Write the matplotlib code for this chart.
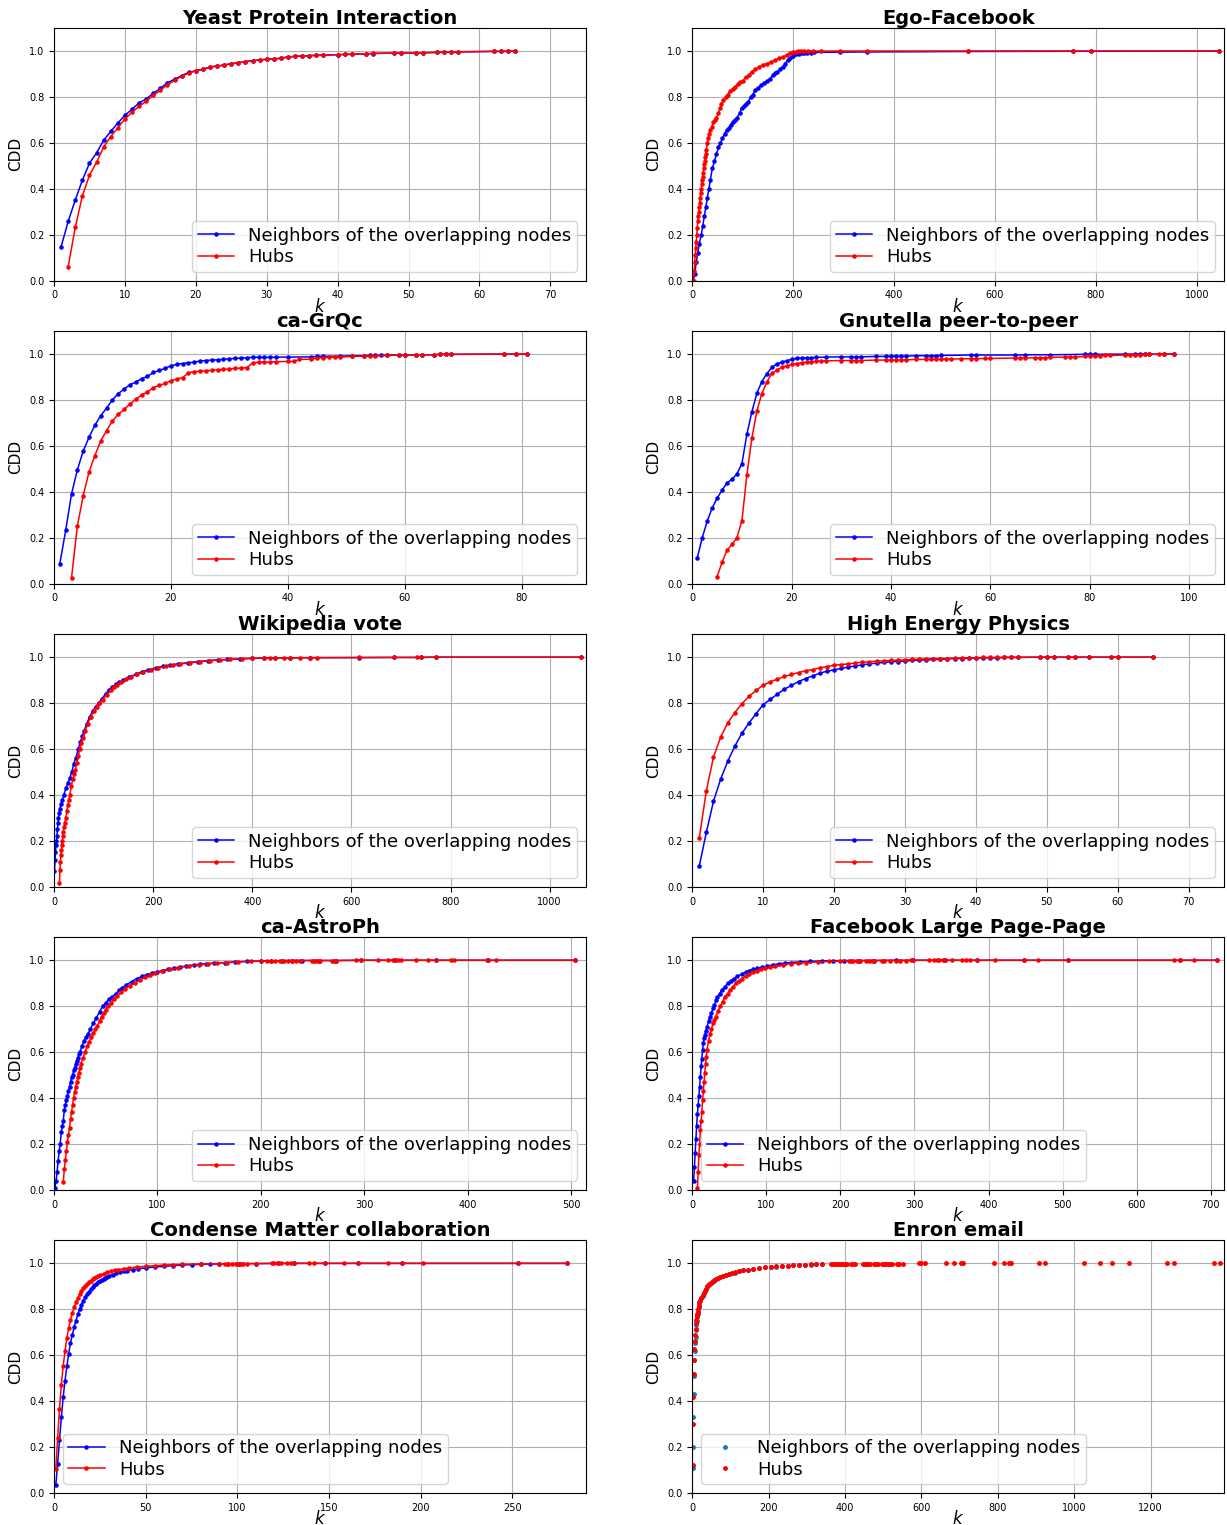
import numpy as np
import matplotlib
matplotlib.use("Agg")
import matplotlib.pyplot as plt

# Cumulative degree distribution, (k, CDD) pairs for each network
# nb = neighbors of the overlapping nodes, hub = hubs

yeast_nb = np.array([
    [1, 0.147], [2, 0.258], [3, 0.351], [4, 0.437], [5, 0.511], [6, 0.556], [7, 0.611], [8, 0.650],
    [9, 0.686], [10, 0.720], [11, 0.746], [12, 0.774], [13, 0.791], [14, 0.816], [15, 0.837],
    [16, 0.862], [17, 0.877], [18, 0.893], [19, 0.907], [20, 0.914], [21, 0.921], [22, 0.930],
    [23, 0.935], [24, 0.939], [25, 0.945], [26, 0.949], [27, 0.954], [28, 0.958], [29, 0.961],
    [30, 0.964], [31, 0.966], [32, 0.969], [33, 0.974], [34, 0.977], [35, 0.978], [36, 0.980],
    [37, 0.981], [38, 0.982], [40, 0.984], [41, 0.985], [42, 0.986], [44, 0.987], [45, 0.989],
    [48, 0.991], [49, 0.991], [51, 0.991], [52, 0.992], [54, 0.994], [55, 0.995], [56, 0.995],
    [57, 0.996], [62, 0.998], [63, 0.998], [64, 0.999], [65, 1.0]])
yeast_hub = np.array([
    [2, 0.061], [3, 0.232], [4, 0.369], [5, 0.459], [6, 0.515], [7, 0.582], [8, 0.627], [9, 0.666],
    [10, 0.704], [11, 0.733], [12, 0.759], [13, 0.781], [14, 0.807], [15, 0.829], [16, 0.853],
    [17, 0.872], [18, 0.890], [19, 0.904], [20, 0.913], [21, 0.920], [22, 0.930], [23, 0.935],
    [24, 0.938], [25, 0.945], [26, 0.949], [27, 0.954], [28, 0.958], [29, 0.961], [30, 0.965],
    [31, 0.965], [32, 0.968], [33, 0.974], [34, 0.977], [35, 0.978], [36, 0.980], [37, 0.981],
    [38, 0.983], [40, 0.984], [41, 0.985], [42, 0.987], [44, 0.987], [45, 0.990], [48, 0.991],
    [49, 0.991], [51, 0.991], [52, 0.993], [54, 0.994], [55, 0.996], [56, 0.996], [57, 0.997],
    [62, 0.999], [63, 0.999], [64, 1.0], [65, 1.0]])

ego_nb = np.array([
    [2, 0.0], [5, 0.03], [8, 0.08], [11, 0.12], [14, 0.16], [18, 0.2], [21, 0.24], [24, 0.28],
    [27, 0.32], [30, 0.36], [33, 0.4], [36, 0.44], [40, 0.49], [44, 0.52], [48, 0.55], [52, 0.58],
    [56, 0.6], [60, 0.62], [64, 0.64], [68, 0.654], [72, 0.665], [76, 0.678], [80, 0.69], [85, 0.70],
    [89, 0.71], [94, 0.73], [98, 0.75], [102, 0.76], [106, 0.77], [111, 0.78], [116, 0.80],
    [120, 0.81], [125, 0.83], [130, 0.84], [136, 0.85], [142, 0.86], [149, 0.87], [154, 0.88],
    [160, 0.895], [165, 0.905], [169, 0.908], [174, 0.92], [179, 0.93], [184, 0.945], [189, 0.96],
    [194, 0.97], [199, 0.98], [205, 0.985], [212, 0.988], [218, 0.99], [222, 0.99], [228, 0.991],
    [235, 0.993], [241, 0.994], [293, 0.995], [347, 0.996], [547, 0.998], [755, 0.999],
    [791, 0.999], [1044, 1.0]])
ego_hub = np.array([
    [3, 0.0], [4, 0.04], [5, 0.08], [6, 0.11], [7, 0.14], [8, 0.17], [9, 0.2], [10, 0.23],
    [11, 0.26], [12, 0.28], [13, 0.3], [14, 0.32], [15, 0.34], [16, 0.36], [17, 0.38], [18, 0.4],
    [19, 0.42], [20, 0.44], [21, 0.45], [22, 0.47], [23, 0.49], [24, 0.51], [25, 0.52], [26, 0.54],
    [27, 0.55], [28, 0.57], [30, 0.6], [32, 0.62], [34, 0.64], [36, 0.654], [39, 0.67], [42, 0.69],
    [45, 0.70], [48, 0.71], [52, 0.73], [55, 0.75], [58, 0.77], [62, 0.785], [66, 0.80], [70, 0.81],
    [75, 0.825], [80, 0.835], [85, 0.845], [90, 0.855], [95, 0.865], [100, 0.87], [106, 0.885],
    [112, 0.895], [118, 0.91], [125, 0.92], [132, 0.93], [140, 0.94], [148, 0.945], [156, 0.952],
    [164, 0.96], [172, 0.968], [180, 0.975], [188, 0.983], [194, 0.99], [200, 0.994], [205, 0.997],
    [209, 0.999], [215, 0.999], [222, 1.0], [230, 1.0], [240, 1.0], [255, 1.0], [293, 1.0],
    [347, 1.0], [547, 1.0], [755, 1.0], [791, 1.0], [1044, 1.0]])

grqc_nb = np.array([
    [1, 0.087], [2, 0.232], [3, 0.391], [4, 0.496], [5, 0.578], [6, 0.638], [7, 0.690], [8, 0.732],
    [9, 0.765], [10, 0.801], [11, 0.828], [12, 0.848], [13, 0.867], [14, 0.878], [15, 0.893],
    [16, 0.903], [17, 0.920], [18, 0.929], [19, 0.938], [20, 0.949], [21, 0.955], [22, 0.959],
    [23, 0.962], [24, 0.965], [25, 0.970], [26, 0.972], [27, 0.974], [28, 0.975], [29, 0.977],
    [30, 0.980], [31, 0.981], [32, 0.983], [33, 0.984], [34, 0.986], [35, 0.986], [36, 0.986],
    [37, 0.986], [38, 0.987], [40, 0.987], [44, 0.988], [45, 0.990], [46, 0.990], [49, 0.991],
    [51, 0.993], [53, 0.993], [54, 0.994], [55, 0.994], [56, 0.994], [57, 0.996], [59, 0.996],
    [60, 0.996], [62, 0.997], [63, 0.997], [65, 0.997], [66, 0.999], [67, 0.999], [68, 0.999],
    [77, 1.0], [79, 1.0], [81, 1.0]])
grqc_hub = np.array([
    [3, 0.025], [4, 0.251], [5, 0.384], [6, 0.487], [7, 0.558], [8, 0.622], [9, 0.667], [10, 0.709],
    [11, 0.738], [12, 0.759], [13, 0.783], [14, 0.803], [15, 0.823], [16, 0.835], [17, 0.854],
    [18, 0.864], [19, 0.872], [20, 0.884], [21, 0.891], [22, 0.897], [23, 0.919], [24, 0.923],
    [25, 0.926], [26, 0.928], [27, 0.929], [28, 0.932], [29, 0.933], [30, 0.935], [31, 0.938],
    [32, 0.939], [33, 0.941], [34, 0.962], [35, 0.964], [36, 0.965], [37, 0.965], [38, 0.967],
    [40, 0.968], [41, 0.968], [42, 0.977], [44, 0.978], [45, 0.983], [46, 0.984], [47, 0.986],
    [48, 0.987], [49, 0.987], [51, 0.990], [53, 0.991], [54, 0.991], [55, 0.993], [57, 0.994],
    [59, 0.996], [60, 0.996], [62, 0.997], [63, 0.997], [65, 0.997], [66, 0.999], [67, 0.999],
    [68, 0.999], [77, 1.0], [79, 1.0], [81, 1.0]])

gnutella_nb = np.array([
    [1, 0.110], [2, 0.199], [3, 0.271], [4, 0.329], [5, 0.372], [6, 0.407], [7, 0.439], [8, 0.455],
    [9, 0.478], [10, 0.523], [11, 0.651], [12, 0.748], [13, 0.829], [14, 0.880], [15, 0.914],
    [16, 0.942], [17, 0.957], [18, 0.965], [19, 0.971], [20, 0.977], [21, 0.981], [22, 0.983],
    [23, 0.984], [24, 0.984], [25, 0.986], [27, 0.987], [30, 0.988], [32, 0.988], [33, 0.988],
    [34, 0.988], [37, 0.990], [39, 0.990], [40, 0.991], [41, 0.991], [42, 0.991], [43, 0.991],
    [45, 0.993], [47, 0.993], [48, 0.993], [49, 0.993], [50, 0.994], [56, 0.996], [57, 0.996],
    [65, 0.996], [67, 0.997], [72, 0.997], [79, 0.999], [80, 0.999], [81, 0.999], [87, 1.0],
    [89, 1.0], [90, 1.0], [91, 1.0], [92, 1.0], [95, 1.0], [97, 1.0]])
gnutella_hub = np.array([
    [5, 0.030], [6, 0.093], [7, 0.145], [8, 0.171], [9, 0.201], [10, 0.274], [11, 0.475],
    [12, 0.633], [13, 0.752], [14, 0.828], [15, 0.877], [16, 0.916], [17, 0.930], [18, 0.942],
    [19, 0.949], [20, 0.955], [21, 0.959], [22, 0.962], [23, 0.965], [24, 0.967], [25, 0.968],
    [26, 0.970], [27, 0.971], [30, 0.972], [32, 0.972], [33, 0.972], [34, 0.972], [37, 0.974],
    [39, 0.974], [40, 0.974], [41, 0.975], [42, 0.975], [43, 0.975], [45, 0.977], [47, 0.977],
    [48, 0.977], [49, 0.977], [50, 0.978], [51, 0.978], [52, 0.978], [54, 0.980], [56, 0.980],
    [57, 0.980], [59, 0.981], [60, 0.981], [65, 0.983], [66, 0.983], [67, 0.983], [69, 0.984],
    [70, 0.984], [71, 0.984], [72, 0.986], [75, 0.987], [76, 0.987], [77, 0.987], [79, 0.990],
    [80, 0.991], [81, 0.991], [82, 0.993], [83, 0.994], [84, 0.994], [87, 0.996], [88, 0.996],
    [89, 0.997], [90, 0.997], [91, 0.999], [92, 0.999], [94, 0.999], [95, 1.0], [97, 1.0]])

wiki_nb = np.array([
    [1, 0.07], [2, 0.115], [3, 0.15], [4, 0.18], [5, 0.2], [6, 0.22], [7, 0.25], [8, 0.28],
    [9, 0.3], [10, 0.32], [12, 0.34], [14, 0.36], [17, 0.38], [20, 0.4], [24, 0.43], [28, 0.45],
    [32, 0.475], [36, 0.5], [40, 0.537], [44, 0.56], [49, 0.6], [53, 0.63], [57, 0.655], [61, 0.68],
    [66, 0.71], [72, 0.74], [78, 0.765], [84, 0.785], [90, 0.8], [97, 0.82], [104, 0.84],
    [111, 0.857], [118, 0.87], [125, 0.883], [132, 0.89], [140, 0.9], [152, 0.915], [165, 0.925],
    [178, 0.937], [190, 0.945], [205, 0.953], [220, 0.96], [235, 0.966], [250, 0.971], [270, 0.976],
    [290, 0.981], [310, 0.985], [330, 0.988], [350, 0.99], [375, 0.993], [400, 0.995], [423, 0.996],
    [446, 0.997], [477, 0.997], [516, 0.998], [616, 0.998], [686, 0.999], [740, 0.999],
    [771, 1.0], [1063, 1.0]])
wiki_hub = np.array([
    [11, 0.015], [12, 0.075], [13, 0.11], [14, 0.14], [15, 0.16], [16, 0.18], [17, 0.2],
    [18, 0.22], [19, 0.24], [20, 0.26], [22, 0.28], [24, 0.3], [26, 0.33], [28, 0.355], [30, 0.38],
    [32, 0.4], [35, 0.44], [38, 0.47], [41, 0.49], [43, 0.508], [46, 0.54], [49, 0.57], [52, 0.6],
    [55, 0.625], [59, 0.65], [63, 0.68], [68, 0.71], [74, 0.74], [80, 0.765], [86, 0.785],
    [91, 0.8], [98, 0.815], [106, 0.835], [115, 0.857], [122, 0.87], [128, 0.88], [135, 0.89],
    [145, 0.905], [155, 0.915], [168, 0.925], [180, 0.935], [195, 0.945], [210, 0.953],
    [225, 0.96], [240, 0.966], [255, 0.971], [275, 0.976], [295, 0.981], [315, 0.985],
    [335, 0.988], [355, 0.99], [380, 0.993], [400, 0.995], [423, 0.996], [435, 0.996],
    [446, 0.997], [465, 0.997], [477, 0.997], [496, 0.998], [516, 0.998], [531, 0.998],
    [616, 0.999], [686, 0.999], [732, 0.999], [740, 1.0], [771, 1.0], [1063, 1.0]])

hep_nb = np.array([
    [1, 0.091], [2, 0.238], [3, 0.372], [4, 0.468], [5, 0.546], [6, 0.612], [7, 0.668], [8, 0.713],
    [9, 0.754], [10, 0.793], [11, 0.816], [12, 0.839], [13, 0.861], [14, 0.877], [15, 0.894],
    [16, 0.907], [17, 0.919], [18, 0.930], [19, 0.939], [20, 0.945], [21, 0.951], [22, 0.957],
    [23, 0.962], [24, 0.967], [25, 0.971], [26, 0.974], [27, 0.977], [28, 0.980], [29, 0.981],
    [30, 0.983], [31, 0.986], [32, 0.987], [33, 0.988], [34, 0.990], [35, 0.991], [36, 0.993],
    [37, 0.994], [38, 0.994], [39, 0.996], [40, 0.996], [41, 0.997], [42, 0.997], [43, 0.997],
    [44, 0.999], [45, 0.999], [46, 0.999], [49, 1.0], [50, 1.0], [51, 1.0], [53, 1.0], [54, 1.0],
    [56, 1.0], [59, 1.0], [60, 1.0], [65, 1.0]])
hep_hub = np.array([
    [1, 0.213], [2, 0.419], [3, 0.565], [4, 0.651], [5, 0.713], [6, 0.759], [7, 0.797], [8, 0.829],
    [9, 0.855], [10, 0.878], [11, 0.893], [12, 0.904], [13, 0.916], [14, 0.925], [15, 0.933],
    [16, 0.941], [17, 0.946], [18, 0.954], [19, 0.959], [20, 0.965], [21, 0.968], [22, 0.971],
    [23, 0.975], [24, 0.978], [25, 0.980], [26, 0.983], [27, 0.984], [28, 0.986], [29, 0.987],
    [30, 0.988], [31, 0.990], [32, 0.991], [33, 0.993], [34, 0.993], [35, 0.994], [36, 0.994],
    [37, 0.996], [38, 0.996], [39, 0.997], [40, 0.997], [41, 0.999], [42, 0.999], [43, 0.999],
    [44, 0.999], [45, 1.0], [46, 1.0], [49, 1.0], [50, 1.0], [51, 1.0], [53, 1.0], [54, 1.0],
    [56, 1.0], [59, 1.0], [60, 1.0], [65, 1.0]])

astro_nb = np.array([
    [1, 0.01], [2, 0.04], [3, 0.08], [4, 0.125], [5, 0.17], [6, 0.2], [7, 0.25], [8, 0.28],
    [9, 0.3], [10, 0.35], [11, 0.37], [12, 0.39], [13, 0.41], [14, 0.43], [15, 0.45], [16, 0.47],
    [17, 0.49], [18, 0.5], [19, 0.52], [20, 0.53], [21, 0.55], [22, 0.56], [23, 0.575], [24, 0.59],
    [25, 0.6], [27, 0.625], [29, 0.65], [31, 0.665], [33, 0.68], [35, 0.7], [38, 0.725], [41, 0.75],
    [44, 0.775], [47, 0.8], [50, 0.815], [53, 0.83], [56, 0.84], [60, 0.855], [63, 0.87], [66, 0.88],
    [70, 0.893], [75, 0.907], [80, 0.92], [85, 0.93], [90, 0.938], [95, 0.945], [100, 0.95],
    [105, 0.955], [110, 0.96], [116, 0.966], [122, 0.971], [128, 0.975], [135, 0.98], [141, 0.983],
    [147, 0.985], [155, 0.988], [165, 0.99], [175, 0.993], [187, 0.995], [200, 0.997], [210, 0.998],
    [220, 0.998], [230, 0.999], [240, 0.999], [256, 0.999], [273, 0.999], [297, 1.0], [330, 1.0],
    [369, 1.0], [419, 1.0], [504, 1.0]])
astro_hub = np.array([
    [9, 0.035], [10, 0.09], [11, 0.13], [12, 0.17], [13, 0.21], [14, 0.24], [15, 0.27], [16, 0.31],
    [17, 0.34], [18, 0.37], [19, 0.4], [20, 0.425], [21, 0.45], [22, 0.47], [23, 0.49], [24, 0.51],
    [25, 0.53], [26, 0.55], [28, 0.575], [30, 0.6], [32, 0.625], [34, 0.645], [36, 0.665],
    [38, 0.685], [40, 0.7], [42, 0.715], [44, 0.735], [46, 0.755], [48, 0.77], [50, 0.785],
    [52, 0.8], [55, 0.815], [58, 0.83], [61, 0.845], [65, 0.86], [69, 0.875], [73, 0.89], [78, 0.9],
    [83, 0.915], [88, 0.925], [93, 0.935], [98, 0.945], [104, 0.952], [112, 0.96], [120, 0.967],
    [130, 0.975], [140, 0.98], [149, 0.985], [158, 0.988], [167, 0.99], [178, 0.993], [190, 0.995],
    [200, 0.996], [206, 0.997], [210, 0.997], [214, 0.998], [218, 0.998], [222, 0.998],
    [226, 0.998], [230, 0.999], [234, 0.999], [238, 0.999], [249, 0.999], [251, 0.999],
    [253, 0.999], [256, 0.999], [257, 0.999], [269, 0.999], [271, 0.999], [273, 0.999],
    [292, 1.0], [297, 1.0], [313, 1.0], [323, 1.0], [328, 1.0], [330, 1.0], [332, 1.0], [335, 1.0],
    [350, 1.0], [361, 1.0], [369, 1.0], [384, 1.0], [387, 1.0], [418, 1.0], [419, 1.0], [427, 1.0],
    [504, 1.0]])

fbpage_nb = np.array([
    [2, 0.04], [3, 0.10], [4, 0.16], [5, 0.22], [6, 0.28], [7, 0.33], [8, 0.37], [9, 0.41],
    [10, 0.45], [11, 0.49], [12, 0.54], [13, 0.57], [14, 0.61], [15, 0.64], [16, 0.66], [17, 0.675],
    [18, 0.69], [20, 0.71], [22, 0.735], [24, 0.755], [26, 0.77], [28, 0.79], [30, 0.805],
    [32, 0.825], [34, 0.84], [37, 0.855], [40, 0.87], [44, 0.885], [48, 0.90], [52, 0.91],
    [56, 0.92], [61, 0.93], [67, 0.94], [72, 0.948], [77, 0.955], [82, 0.96], [88, 0.965],
    [94, 0.97], [101, 0.975], [109, 0.98], [117, 0.985], [125, 0.988], [133, 0.99], [145, 0.993],
    [159, 0.995], [175, 0.997], [190, 0.998], [205, 0.999], [225, 0.999], [246, 0.999],
    [275, 1.0], [298, 1.0], [341, 1.0], [385, 1.0], [448, 1.0], [507, 1.0], [658, 1.0], [708, 1.0]])
fbpage_hub = np.array([
    [7, 0.01], [8, 0.08], [9, 0.15], [10, 0.20], [11, 0.26], [12, 0.30], [13, 0.34], [14, 0.39],
    [15, 0.43], [16, 0.47], [17, 0.51], [18, 0.55], [19, 0.58], [20, 0.61], [22, 0.65], [24, 0.68],
    [26, 0.70], [28, 0.725], [30, 0.74], [32, 0.755], [35, 0.78], [38, 0.80], [41, 0.82],
    [44, 0.84], [48, 0.855], [51, 0.87], [55, 0.885], [59, 0.90], [63, 0.91], [67, 0.92],
    [72, 0.93], [77, 0.94], [82, 0.948], [88, 0.955], [93, 0.96], [98, 0.965], [105, 0.97],
    [112, 0.975], [122, 0.98], [133, 0.985], [143, 0.988], [154, 0.99], [170, 0.993],
    [185, 0.995], [200, 0.997], [212, 0.998], [214, 0.998], [217, 0.998], [222, 0.998],
    [225, 0.998], [227, 0.998], [235, 0.999], [238, 0.999], [243, 0.999], [246, 0.999],
    [256, 0.999], [259, 0.999], [267, 0.999], [275, 0.999], [280, 0.999], [288, 0.999],
    [296, 1.0], [298, 1.0], [320, 1.0], [327, 1.0], [330, 1.0], [333, 1.0], [338, 1.0], [341, 1.0],
    [351, 1.0], [364, 1.0], [369, 1.0], [375, 1.0], [385, 1.0], [409, 1.0], [448, 1.0], [467, 1.0],
    [507, 1.0], [650, 1.0], [658, 1.0], [677, 1.0], [708, 1.0]])

condmat_nb = np.array([
    [1, 0.036], [2, 0.128], [3, 0.230], [4, 0.329], [5, 0.416], [6, 0.488], [7, 0.552], [8, 0.606],
    [9, 0.654], [10, 0.690], [11, 0.722], [12, 0.751], [13, 0.778], [14, 0.801], [15, 0.819],
    [16, 0.836], [17, 0.852], [18, 0.865], [19, 0.877], [20, 0.887], [21, 0.896], [22, 0.904],
    [23, 0.912], [24, 0.917], [25, 0.923], [26, 0.929], [27, 0.933], [28, 0.938], [29, 0.942],
    [30, 0.945], [32, 0.951], [34, 0.957], [36, 0.961], [38, 0.965], [40, 0.968], [43, 0.972],
    [46, 0.977], [50, 0.980], [55, 0.984], [60, 0.987], [65, 0.990], [70, 0.993], [75, 0.994],
    [80, 0.996], [85, 0.997], [90, 0.998], [95, 0.998], [101, 0.999], [110, 0.999], [122, 1.0],
    [131, 1.0], [148, 1.0], [166, 1.0], [190, 1.0], [253, 1.0], [280, 1.0]])
condmat_hub = np.array([
    [1, 0.106], [2, 0.241], [3, 0.367], [4, 0.471], [5, 0.552], [6, 0.617], [7, 0.674], [8, 0.717],
    [9, 0.755], [10, 0.783], [11, 0.809], [12, 0.830], [13, 0.848], [14, 0.865], [15, 0.880],
    [16, 0.891], [17, 0.901], [18, 0.910], [19, 0.919], [20, 0.925], [21, 0.930], [22, 0.936],
    [23, 0.941], [24, 0.945], [25, 0.949], [27, 0.955], [29, 0.961], [31, 0.965], [33, 0.970],
    [35, 0.972], [38, 0.977], [41, 0.980], [45, 0.984], [50, 0.987], [55, 0.990], [60, 0.993],
    [65, 0.994], [70, 0.996], [80, 0.997], [90, 0.998], [93, 0.998], [95, 0.998], [97, 0.999],
    [99, 0.999], [100, 0.999], [101, 0.999], [102, 0.999], [103, 0.999], [105, 0.999],
    [110, 0.999], [119, 1.0], [120, 1.0], [122, 1.0], [124, 1.0], [127, 1.0], [129, 1.0],
    [131, 1.0], [139, 1.0], [142, 1.0], [148, 1.0], [158, 1.0], [166, 1.0], [182, 1.0], [190, 1.0],
    [201, 1.0], [253, 1.0], [280, 1.0]])

enron_nb = np.array([
    [1, 0.11], [2, 0.20], [3, 0.33], [4, 0.43], [5, 0.51], [6, 0.58], [7, 0.62], [8, 0.655],
    [9, 0.68], [10, 0.71], [11, 0.73], [12, 0.75], [13, 0.765], [14, 0.78], [15, 0.79], [17, 0.81],
    [19, 0.825], [21, 0.835], [24, 0.848], [27, 0.86], [30, 0.87], [33, 0.878], [36, 0.888],
    [40, 0.898], [44, 0.906], [48, 0.913], [53, 0.919], [58, 0.925], [63, 0.931], [68, 0.936],
    [74, 0.941], [80, 0.945], [88, 0.95], [96, 0.954], [104, 0.957], [112, 0.96], [122, 0.965],
    [134, 0.969], [146, 0.972], [160, 0.976], [175, 0.979], [190, 0.982], [205, 0.984],
    [220, 0.986], [235, 0.988], [250, 0.99], [265, 0.991], [280, 0.993], [296, 0.994],
    [310, 0.995], [325, 0.996], [340, 0.997]])
enron_hub = np.array([
    [1, 0.12], [2, 0.30], [3, 0.42], [4, 0.52], [5, 0.58], [6, 0.625], [7, 0.66], [8, 0.69],
    [9, 0.715], [10, 0.74], [11, 0.755], [12, 0.77], [13, 0.78], [14, 0.79], [15, 0.80],
    [17, 0.815], [19, 0.83], [21, 0.84], [24, 0.85], [27, 0.862], [30, 0.872], [33, 0.88],
    [36, 0.89], [40, 0.90], [44, 0.908], [48, 0.915], [53, 0.92], [58, 0.926], [63, 0.932],
    [68, 0.937], [74, 0.942], [80, 0.946], [88, 0.95], [96, 0.955], [104, 0.958], [112, 0.961],
    [122, 0.966], [134, 0.97], [146, 0.973], [160, 0.977], [175, 0.98], [190, 0.983], [205, 0.985],
    [220, 0.987], [235, 0.989], [250, 0.99], [265, 0.992], [280, 0.994], [296, 0.995],
    [310, 0.996], [325, 0.997], [340, 0.998], [364, 0.998], [369, 0.998], [374, 0.998],
    [379, 0.998], [384, 0.998], [390, 0.998], [395, 0.998], [400, 0.998], [405, 0.998],
    [415, 0.999], [420, 0.999], [425, 0.999], [446, 0.999], [451, 0.999], [456, 0.999],
    [461, 0.999], [466, 0.999], [476, 0.999], [481, 0.999], [486, 0.999], [497, 0.999],
    [502, 0.999], [507, 0.999], [512, 0.999], [517, 0.999], [522, 0.999], [537, 0.999],
    [542, 0.999], [553, 0.999], [594, 1.0], [599, 1.0], [610, 1.0], [665, 1.0], [686, 1.0],
    [703, 1.0], [709, 1.0], [791, 1.0], [816, 1.0], [829, 1.0], [835, 1.0], [908, 1.0], [924, 1.0],
    [1026, 1.0], [1067, 1.0], [1098, 1.0], [1143, 1.0], [1243, 1.0], [1261, 1.0], [1366, 1.0],
    [1382, 1.0]])

titles = ["Yeast Protein Interaction", "Ego-Facebook", "ca-GrQc", "Gnutella peer-to-peer",
          "Wikipedia vote", "High Energy Physics", "ca-AstroPh", "Facebook Large Page-Page",
          "Condense Matter collaboration", "Enron email"]
neighbors = [yeast_nb, ego_nb, grqc_nb, gnutella_nb, wiki_nb, hep_nb, astro_nb, fbpage_nb,
             condmat_nb, enron_nb]
hubs = [yeast_hub, ego_hub, grqc_hub, gnutella_hub, wiki_hub, hep_hub, astro_hub, fbpage_hub,
        condmat_hub, enron_hub]
legend_locs = ["lower right"] * 7 + ["lower left"] * 3

fig, axes = plt.subplots(5, 2, figsize=(12.27, 15.25), dpi=100)
fig.subplots_adjust(left=0.044, right=0.9976, top=0.9816, bottom=0.021, wspace=0.2, hspace=0.2)

for i, ax in enumerate(axes.flat):
    nb = neighbors[i]
    hub = hubs[i]
    if i < 9:
        ax.plot(nb[:, 0], nb[:, 1], color="blue", marker=".", markersize=4.5, linewidth=1.1,
                label="Neighbors of the overlapping nodes")
        ax.plot(hub[:, 0], hub[:, 1], color="red", marker=".", markersize=4.5, linewidth=1.1,
                label="Hubs")
    else:
        # Enron is drawn as dots only
        ax.plot(nb[:, 0], nb[:, 1], ".", color="#1f77b4", markersize=5,
                label="Neighbors of the overlapping nodes")
        ax.plot(hub[:, 0], hub[:, 1], ".", color="red", markersize=5, label="Hubs")

    kmax = max(nb[:, 0].max(), hub[:, 0].max())
    ax.set_xlim(0, kmax + 10)
    ax.set_ylim(0, 1.1)
    ax.grid(True)
    ax.tick_params(labelsize=7)
    ax.set_title(titles[i], fontsize=14, fontweight="bold", pad=3)
    ax.set_ylabel("CDD", fontsize=11)
    ax.set_xlabel("$k$", fontsize=12, labelpad=-2)
    ax.legend(loc=legend_locs[i], fontsize=13, labelspacing=0.2, borderpad=0.3)

plt.savefig("out.png")
